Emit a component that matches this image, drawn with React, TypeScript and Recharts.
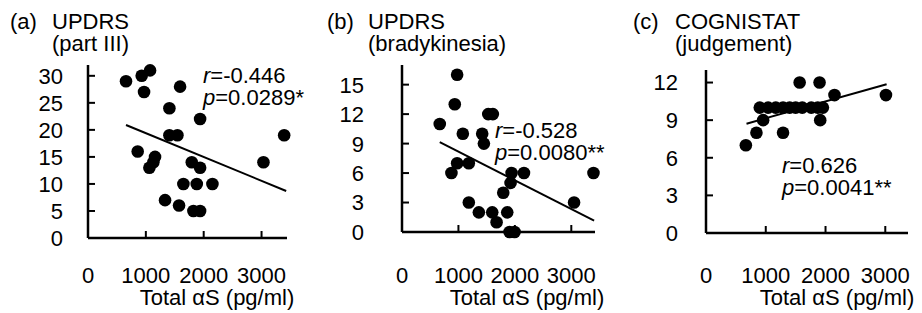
// Three scatter panels: clinical scores against total αS, each with its fitted line.
import { ReferenceLine, Scatter, ScatterChart, XAxis, YAxis } from "recharts";

type Pt = { x: number; y: number };

// (a) UPDRS part III
const updrsIII: Pt[] = [
  { x: 657, y: 29 }, { x: 928, y: 30 }, { x: 1073, y: 31 }, { x: 969, y: 27 },
  { x: 1592, y: 28 }, { x: 1407, y: 24 }, { x: 1938, y: 22 }, { x: 1407, y: 19 },
  { x: 1546, y: 19 }, { x: 3391, y: 19 }, { x: 859, y: 16 }, { x: 1159, y: 15 },
  { x: 1130, y: 14 }, { x: 1061, y: 13 }, { x: 1794, y: 14 }, { x: 1938, y: 13 },
  { x: 3033, y: 14 }, { x: 1649, y: 10 }, { x: 1880, y: 10 }, { x: 2151, y: 10 },
  { x: 1332, y: 7 }, { x: 1574, y: 6 }, { x: 1822, y: 5 }, { x: 1938, y: 5 },
];
const updrsIIIFit: Pt[] = [{ x: 657, y: 20.9 }, { x: 3426, y: 8.7 }];
const updrsIIITicks = [0, 5, 10, 15, 20, 25, 30];

// (b) UPDRS bradykinesia
const brady: Pt[] = [
  { x: 669, y: 11 }, { x: 977, y: 16 }, { x: 935, y: 13 }, { x: 876, y: 6 },
  { x: 1078, y: 10 }, { x: 977, y: 7 }, { x: 1184, y: 7 }, { x: 1184, y: 3 },
  { x: 1362, y: 2 }, { x: 1421, y: 10 }, { x: 1451, y: 9 }, { x: 1528, y: 12 },
  { x: 1610, y: 12 }, { x: 1599, y: 2 }, { x: 1676, y: 1 }, { x: 1794, y: 4 },
  { x: 1865, y: 2 }, { x: 1906, y: 0 }, { x: 1995, y: 0 }, { x: 1942, y: 6 },
  { x: 1924, y: 5 }, { x: 2161, y: 6 }, { x: 3049, y: 3 }, { x: 3393, y: 6 },
];
const bradyFit: Pt[] = [{ x: 669, y: 9.16 }, { x: 3404, y: 1.15 }];
const bradyTicks = [0, 3, 6, 9, 12, 15];

// (c) COGNISTAT judgement
const judgement: Pt[] = [
  { x: 667, y: 7 }, { x: 844, y: 8 }, { x: 956, y: 9 }, { x: 900, y: 10 },
  { x: 1039, y: 10 }, { x: 1167, y: 10 }, { x: 1289, y: 10 }, { x: 1400, y: 10 },
  { x: 1500, y: 10 }, { x: 1611, y: 10 }, { x: 1761, y: 10 }, { x: 1870, y: 10 },
  { x: 1956, y: 10 }, { x: 1289, y: 8 }, { x: 1567, y: 12 }, { x: 1900, y: 12 },
  { x: 1911, y: 9 }, { x: 2150, y: 11 }, { x: 3011, y: 11 },
];
const judgementFit: Pt[] = [{ x: 678, y: 8.72 }, { x: 3022, y: 11.87 }];
const judgementTicks = [0, 3, 6, 9, 12];

const xTicks = [0, 1000, 2000, 3000];
const xLabel = "Total αS (pg/ml)";

// layout per panel (page pixels)
const panels = [
  {
    key: "a", data: updrsIII, fit: updrsIIIFit, yTicks: updrsIIITicks, yMax: 32, xMax: 3440,
    left: 0, width: 300, axisX: 88, axisY: 238, top: 65, right: 13, labelGap: 25,
    tag: "(a)", tagX: 10, titleX: 52, title: ["UPDRS", "(part III)"],
    r: "-0.446", p: "0.0289*", statX: 203, statY: 83, xLabelX: 217,
  },
  {
    key: "b", data: brady, fit: bradyFit, yTicks: bradyTicks, yMax: 17, xMax: 3420,
    left: 310, width: 300, axisX: 92, axisY: 232, top: 65, right: 15, labelGap: 38,
    tag: "(b)", tagX: 327, titleX: 368, title: ["UPDRS", "(bradykinesia)"],
    r: "-0.528", p: "0.0080**", statX: 495, statY: 138, xLabelX: 527,
  },
  {
    key: "c", data: judgement, fit: judgementFit, yTicks: judgementTicks, yMax: 13, xMax: 3380,
    left: 620, width: 302, axisX: 86, axisY: 233, top: 70, right: 14, labelGap: 28,
    tag: "(c)", tagX: 633, titleX: 675, title: ["COGNISTAT", "(judgement)"],
    r: "0.626", p: "0.0041**", statX: 782, statY: 173, xLabelX: 837,
  },
];

const FONT = 22;
const TICK_LABEL_Y = 283;

function YTick({ x, y, payload, gap }: any) {
  return (
    <g>
      <line x1={x} x2={x + 7} y1={y} y2={y} stroke="#000" strokeWidth={2} />
      <text x={x - gap} y={y} dy="0.36em" textAnchor="end" fontSize={FONT} fill="#000">
        {payload.value}
      </text>
    </g>
  );
}

function XTick({ x, y, payload }: any) {
  return (
    <g>
      <line x1={x} x2={x} y1={y} y2={y - 7} stroke="#000" strokeWidth={2} />
      <text x={x} y={TICK_LABEL_Y} textAnchor="middle" fontSize={FONT} fill="#000">
        {payload.value}
      </text>
    </g>
  );
}

function Dot(props: any) {
  return <circle cx={props.cx} cy={props.cy} r={6.3} fill="#000" />;
}

function Label({ x, y, anchor = "start", children }: any) {
  return (
    <text x={x} y={y} textAnchor={anchor} fill="#000" style={{ fontSize: FONT }}>
      {children}
    </text>
  );
}

export default function App() {
  return (
    <div
      style={{
        position: "absolute",
        left: 0,
        top: 0,
        width: 922,
        height: 313,
        background: "#fff",
        fontFamily: '"Liberation Sans", Arial, sans-serif',
        fontSize: FONT,
        overflow: "hidden",
      }}
    >
      {panels.map((p) => (
        <div key={p.key} style={{ position: "absolute", left: p.left, top: 0 }}>
          <ScatterChart
            width={p.width}
            height={313}
            margin={{ top: p.top, right: p.right, left: 0, bottom: 0 }}
          >
            <XAxis
              type="number"
              dataKey="x"
              domain={[0, p.xMax]}
              ticks={xTicks}
              interval={0}
              height={313 - p.axisY}
              axisLine={{ stroke: "#000", strokeWidth: 2.5 }}
              tickLine={false}
              tickSize={0}
              tickMargin={0}
              tick={(t: any) => <XTick {...t} />}
            />
            <YAxis
              type="number"
              dataKey="y"
              domain={[0, p.yMax]}
              ticks={p.yTicks}
              interval={0}
              width={p.axisX}
              axisLine={{ stroke: "#000", strokeWidth: 2.5 }}
              tickLine={false}
              tickSize={0}
              tickMargin={0}
              tick={(t: any) => <YTick {...t} gap={p.labelGap} />}
            />
            <ReferenceLine
              segment={p.fit}
              stroke="#000"
              strokeWidth={2}
              ifOverflow="visible"
            />
            <Scatter data={p.data} shape={Dot} isAnimationActive={false} />
          </ScatterChart>
        </div>
      ))}
      <svg
        width={922}
        height={313}
        style={{ position: "absolute", left: 0, top: 0, pointerEvents: "none" }}
      >
        {panels.map((p) => (
          <g key={p.key}>
            <Label x={p.tagX} y={29}>{p.tag}</Label>
            <Label x={p.titleX} y={29}>{p.title[0]}</Label>
            <Label x={p.titleX} y={51}>{p.title[1]}</Label>
            <Label x={p.statX} y={p.statY}>
              <tspan fontStyle="italic">r</tspan>={p.r}
            </Label>
            <Label x={p.statX} y={p.statY + 22}>
              <tspan fontStyle="italic">p</tspan>={p.p}
            </Label>
            <Label x={p.xLabelX} y={305} anchor="middle">{xLabel}</Label>
          </g>
        ))}
      </svg>
    </div>
  );
}
